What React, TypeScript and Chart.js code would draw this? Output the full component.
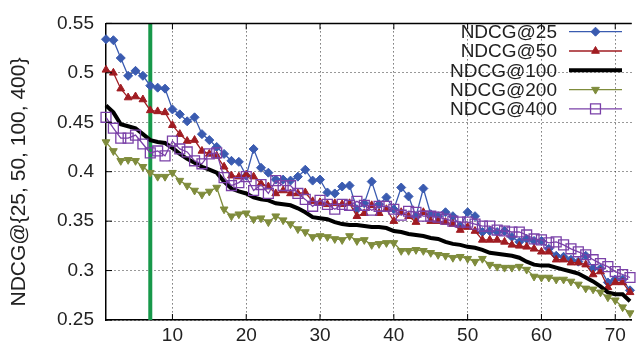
import { useEffect, useRef } from 'react';
import { Chart, registerables } from 'chart.js';
import { drawPoint } from 'chart.js/helpers';

Chart.register(...registerables);

const xValues = [
  1, 2, 3, 4, 5, 6, 7, 8, 9, 10, 11, 12, 13, 14, 15, 16, 17, 18, 19, 20, 21, 22, 23, 24,
  25, 26, 27, 28, 29, 30, 31, 32, 33, 34, 35, 36, 37, 38, 39, 40, 41, 42, 43, 44, 45, 46, 47, 48,
  49, 50, 51, 52, 53, 54, 55, 56, 57, 58, 59, 60, 61, 62, 63, 64, 65, 66, 67, 68, 69, 70, 71, 72,
];

const ndcg25 = [
  0.534, 0.533, 0.515, 0.497, 0.502, 0.497, 0.487, 0.485, 0.484, 0.463, 0.458, 0.451, 0.455,
  0.438, 0.432, 0.425, 0.418, 0.411, 0.410, 0.396, 0.423, 0.404, 0.399, 0.392, 0.392,
  0.391, 0.395, 0.402, 0.391, 0.392, 0.379, 0.378, 0.385, 0.386, 0.362, 0.368, 0.390,
  0.367, 0.374, 0.362, 0.384, 0.375, 0.355, 0.383, 0.357, 0.355, 0.359, 0.355, 0.345,
  0.359, 0.355, 0.339, 0.340, 0.339, 0.340, 0.334, 0.329, 0.332, 0.330, 0.330, 0.322,
  0.315, 0.314, 0.311, 0.309, 0.315, 0.302, 0.302, 0.288, 0.291, 0.291, 0.280,
];

const ndcg50 = [
  0.503, 0.500, 0.484, 0.475, 0.476, 0.473, 0.462, 0.461, 0.460, 0.447, 0.438, 0.431, 0.432,
  0.421, 0.418, 0.416, 0.405, 0.396, 0.395, 0.397, 0.395, 0.388, 0.385, 0.378, 0.381,
  0.378, 0.378, 0.379, 0.370, 0.369, 0.367, 0.368, 0.367, 0.368, 0.355, 0.358, 0.366,
  0.358, 0.362, 0.350, 0.359, 0.355, 0.349, 0.359, 0.350, 0.350, 0.349, 0.347, 0.341,
  0.344, 0.340, 0.331, 0.331, 0.331, 0.329, 0.326, 0.325, 0.324, 0.322, 0.319, 0.319,
  0.311, 0.311, 0.308, 0.308, 0.306, 0.296, 0.299, 0.283, 0.288, 0.288, 0.278,
];

const ndcg100 = [
  0.467, 0.460, 0.448, 0.446, 0.444, 0.438, 0.432, 0.430, 0.429, 0.424, 0.418, 0.413, 0.409,
  0.405, 0.402, 0.399, 0.390, 0.383, 0.380, 0.378, 0.374, 0.372, 0.371, 0.368, 0.367,
  0.366, 0.363, 0.359, 0.354, 0.353, 0.352, 0.349, 0.347, 0.346, 0.346, 0.345, 0.344,
  0.344, 0.343, 0.340, 0.339, 0.337, 0.336, 0.335, 0.333, 0.332, 0.329, 0.327, 0.326,
  0.324, 0.323, 0.321, 0.318, 0.317, 0.316, 0.315, 0.313, 0.309, 0.306, 0.305, 0.305,
  0.303, 0.301, 0.299, 0.297, 0.293, 0.289, 0.284, 0.278, 0.276, 0.276, 0.269,
];

const ndcg200 = [
  0.430, 0.421, 0.411, 0.412, 0.411, 0.405, 0.399, 0.395, 0.395, 0.399, 0.391, 0.386, 0.381,
  0.377, 0.380, 0.384, 0.362, 0.355, 0.357, 0.358, 0.352, 0.353, 0.349, 0.355, 0.351,
  0.347, 0.342, 0.339, 0.334, 0.335, 0.334, 0.332, 0.331, 0.335, 0.330, 0.331, 0.326,
  0.327, 0.328, 0.328, 0.320, 0.320, 0.321, 0.320, 0.318, 0.316, 0.315, 0.313, 0.314,
  0.312, 0.309, 0.312, 0.306, 0.304, 0.303, 0.303, 0.304, 0.301, 0.294, 0.293, 0.293,
  0.291, 0.291, 0.289, 0.286, 0.282, 0.281, 0.278, 0.273, 0.270, 0.263, 0.257,
];

const ndcg400 = [
  0.455, 0.444, 0.434, 0.434, 0.437, 0.428, 0.419, 0.421, 0.416, 0.431, 0.423, 0.420, 0.411,
  0.408, 0.418, 0.419, 0.394, 0.386, 0.389, 0.395, 0.381, 0.387, 0.378, 0.391, 0.386,
  0.386, 0.378, 0.372, 0.365, 0.371, 0.367, 0.362, 0.367, 0.366, 0.370, 0.366, 0.361,
  0.365, 0.365, 0.362, 0.356, 0.360, 0.359, 0.355, 0.355, 0.354, 0.352, 0.350, 0.349,
  0.349, 0.347, 0.345, 0.345, 0.341, 0.340, 0.339, 0.339, 0.336, 0.332, 0.331, 0.328,
  0.329, 0.326, 0.322, 0.319, 0.316, 0.311, 0.307, 0.304, 0.299, 0.296, 0.293,
];

const seriesNames = ['NDCG@25', 'NDCG@50', 'NDCG@100', 'NDCG@200', 'NDCG@400'];
const xTicks = [10, 20, 30, 40, 50, 60, 70];
const yTicks = [0.25, 0.3, 0.35, 0.4, 0.45, 0.5, 0.55];
const yTickLabels = ['0.25', '0.3', '0.35', '0.4', '0.45', '0.5', '0.55'];
const yTitle = 'NDCG@{25, 50, 100, 400}';
const cutoff = [7];

const FONT = '"Liberation Sans", Arial, Helvetica, sans-serif';
const BLUE = '#3a5bb0';
const RED = '#a01c22';
const BLACK = '#000000';
const OLIVE = '#7f8c3c';
const PURPLE = '#7a40a8';
const GREEN = '#17984a';

export default function App() {
  const ref = useRef<HTMLCanvasElement>(null);

  useEffect(() => {
    const canvas = ref.current;
    if (!canvas) return;
    const mk = (ys: number[]) => xValues.map((x, i) => ({ x, y: ys[i] }));

    const framePlugin = {
      id: 'frame',
      afterDraw(chart: any) {
        const { ctx, chartArea } = chart;
        const xs = chart.scales.x;
        const ys = chart.scales.y;
        ctx.save();
        ctx.strokeStyle = '#000';
        ctx.lineWidth = 1.5;
        ctx.beginPath();
        ctx.moveTo(chartArea.left, chartArea.top);
        ctx.lineTo(chartArea.right, chartArea.top);
        ctx.stroke();
        ctx.lineWidth = 1;
        xs.ticks.forEach((t: any) => {
          const px = xs.getPixelForValue(t.value);
          ctx.beginPath();
          ctx.moveTo(px, chartArea.top);
          ctx.lineTo(px, chartArea.top + 6);
          ctx.moveTo(px, chartArea.bottom);
          ctx.lineTo(px, chartArea.bottom - 6);
          ctx.stroke();
        });
        ys.ticks.forEach((t: any) => {
          const py = ys.getPixelForValue(t.value);
          ctx.beginPath();
          ctx.moveTo(chartArea.left, py);
          ctx.lineTo(chartArea.left + 6, py);
          ctx.stroke();
        });
        // y title
        ctx.fillStyle = '#222';
        ctx.font = `21px ${FONT}`;
        ctx.textAlign = 'center';
        ctx.textBaseline = 'middle';
        ctx.translate(19, 182);
        ctx.rotate(-Math.PI / 2);
        ctx.fillText(yTitle, 0, 0);
        ctx.restore();

        // legend
        ctx.save();
        const rowTop = 31.7;
        const rowGap = 19.3;
        const textRight = 557;
        const lineL = 569;
        const lineR = 622;
        ctx.font = `19px ${FONT}`;
        ctx.textAlign = 'right';
        ctx.textBaseline = 'middle';
        for (let i = 0; i < seriesNames.length; i++) {
          const ds: any = chart.data.datasets[i];
          const y = rowTop + i * rowGap;
          ctx.fillStyle = '#222';
          ctx.fillText(ds.label, textRight, y + 1);
          ctx.strokeStyle = ds.borderColor;
          ctx.lineWidth = ds.borderWidth;
          ctx.beginPath();
          ctx.moveTo(lineL, y);
          ctx.lineTo(lineR, y);
          ctx.stroke();
          if (ds.pointRadius > 0) {
            ctx.fillStyle = ds.pointBackgroundColor;
            ctx.strokeStyle = ds.pointBorderColor;
            ctx.lineWidth = ds.pointBorderWidth;
            drawPoint(ctx, {
              pointStyle: ds.pointStyle,
              radius: ds.pointRadius,
              rotation: ds.pointRotation || 0,
              borderWidth: ds.pointBorderWidth,
            } as any, (lineL + lineR) / 2, y);
          }
        }
        ctx.restore();
      },
    };

    const chart = new Chart(canvas, {
      type: 'line',
      data: {
        datasets: [
          {
            label: seriesNames[0], data: mk(ndcg25), borderColor: BLUE, backgroundColor: BLUE,
            pointBackgroundColor: BLUE, pointBorderColor: BLUE, borderWidth: 1.3,
            pointStyle: 'rectRot', pointRadius: 4.5, pointBorderWidth: 1, order: 5, clip: false,
          } as any,
          {
            label: seriesNames[1], data: mk(ndcg50), borderColor: RED, backgroundColor: RED,
            pointBackgroundColor: RED, pointBorderColor: RED, borderWidth: 1.3,
            pointStyle: 'triangle', pointRadius: 4.5, pointBorderWidth: 1, order: 4, clip: false,
          },
          {
            label: seriesNames[2], data: mk(ndcg100), borderColor: BLACK, backgroundColor: BLACK,
            borderWidth: 4, pointRadius: 0, order: 3, clip: false,
          },
          {
            label: seriesNames[3], data: mk(ndcg200), borderColor: OLIVE, backgroundColor: OLIVE,
            pointBackgroundColor: OLIVE, pointBorderColor: OLIVE, borderWidth: 1.3,
            pointStyle: 'triangle', pointRotation: 180, pointRadius: 4.5, pointBorderWidth: 1,
            order: 2, clip: false,
          },
          {
            label: seriesNames[4], data: mk(ndcg400), borderColor: PURPLE, backgroundColor: 'rgba(0,0,0,0)',
            pointBackgroundColor: 'rgba(0,0,0,0)', pointBorderColor: PURPLE, borderWidth: 1.3,
            pointStyle: 'rect', pointRadius: 7, pointBorderWidth: 1.3, order: 1, clip: false,
          },
          {
            label: 'cutoff',
            data: [
              { x: cutoff[0], y: yTicks[0] },
              { x: cutoff[0], y: yTicks[yTicks.length - 1] },
            ],
            borderColor: GREEN, borderWidth: 4, pointRadius: 0, order: 6,
          },
        ],
      },
      options: {
        responsive: false,
        animation: false,
        events: [],
        layout: { padding: { top: 16, right: 0, left: 0, bottom: 0 } },
        plugins: { legend: { display: false }, tooltip: { enabled: false } },
        scales: {
          x: {
            type: 'linear',
            min: 1,
            max: 72.23,
            afterBuildTicks: (s: any) => { s.ticks = xTicks.map((v) => ({ value: v })); },
            afterFit: (s: any) => { s.height = 28; },
            grid: { color: '#333', lineWidth: 1, drawTicks: false },
            border: { display: true, color: '#000', width: 1.5, dash: [1, 3] },
            ticks: {
              font: { family: FONT, size: 19 },
              color: '#222',
              padding: 4,
              maxRotation: 0,
              autoSkip: false,
              callback: (v: any) => String(v),
            },
          },
          y: {
            type: 'linear',
            min: 0.25,
            max: 0.55,
            afterBuildTicks: (s: any) => { s.ticks = yTicks.map((v) => ({ value: v })); },
            afterFit: (s: any) => { s.width = 106; },
            grid: { color: '#333', lineWidth: 1, drawTicks: false },
            border: { display: true, color: '#000', width: 1.5, dash: [1, 3] },
            ticks: {
              font: { family: FONT, size: 19 },
              color: '#222',
              padding: 12,
              autoSkip: false,
              callback: (_v: any, i: number) => yTickLabels[i],
            },
          },
        },
      } as any,
      plugins: [framePlugin],
    });
    return () => chart.destroy();
  }, []);

  return (
    <div style={{ position: 'fixed', left: 0, top: 0, width: 640, height: 348, background: '#fff' }}>
      <canvas ref={ref} width={640} height={348} style={{ display: 'block' }} />
    </div>
  );
}
